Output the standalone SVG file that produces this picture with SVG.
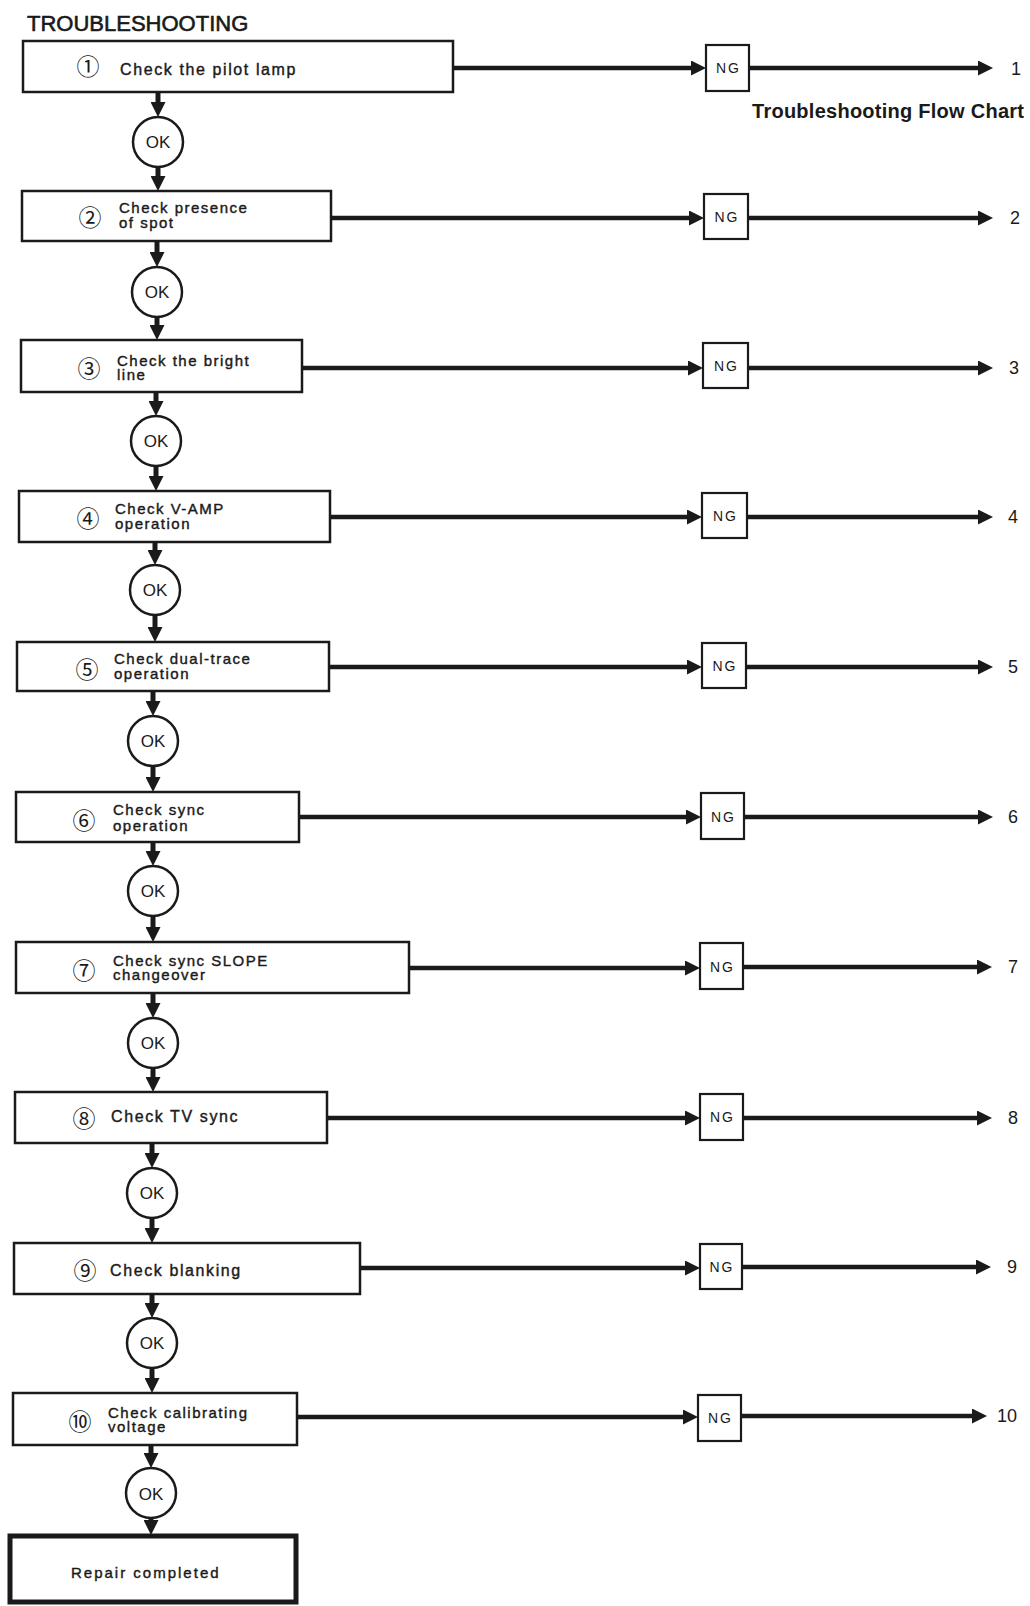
<svg xmlns="http://www.w3.org/2000/svg" width="1030" height="1606" viewBox="0 0 1030 1606">
<defs>
<style>
.box{fill:#fff;stroke:#1a1a1a;stroke-width:2.5}
.ng{fill:#fff;stroke:#1a1a1a;stroke-width:2.2}
.ok{fill:#fff;stroke:#1a1a1a;stroke-width:2.5}
.fin{fill:#fff;stroke:#1a1a1a;stroke-width:5}
.h{stroke:#1a1a1a;stroke-width:4.5;fill:none;marker-end:url(#ah)}
.v{stroke:#1a1a1a;stroke-width:5;fill:none;marker-end:url(#ah)}
.t{font-family:"Liberation Sans",Arial,sans-serif;font-size:15px;letter-spacing:1.5px;fill:#1a1a1a;stroke:#1a1a1a;stroke-width:0.4}
.t1{font-family:"Liberation Sans",Arial,sans-serif;font-size:16px;letter-spacing:1.6px;fill:#1a1a1a;stroke:#1a1a1a;stroke-width:0.4}
.cn{font-family:"Noto Sans CJK JP","DejaVu Sans",sans-serif;font-size:23px;fill:#1a1a1a;text-anchor:middle}
.okt{font-family:"Liberation Sans",Arial,sans-serif;font-size:17px;fill:#1a1a1a;text-anchor:middle}
.ngt{font-family:"Liberation Sans",Arial,sans-serif;font-size:14px;letter-spacing:2px;fill:#1a1a1a;text-anchor:middle}
.num{font-family:"Liberation Sans",Arial,sans-serif;font-size:18px;fill:#1a1a1a;text-anchor:middle}
</style>
<marker id="ah" markerUnits="userSpaceOnUse" markerWidth="15" markerHeight="15" viewBox="0 0 15 15" refX="7" refY="7.5" orient="auto">
<path d="M0,0 L15,7.5 L0,15 z" fill="#1a1a1a"/>
</marker>
</defs>
<rect width="1030" height="1606" fill="#fff"/>

<text x="27" y="31" font-family="Liberation Sans, Arial, sans-serif" font-size="22" fill="#1a1a1a" stroke="#1a1a1a" stroke-width="0.6">TROUBLESHOOTING</text>
<text x="752" y="118" font-family="Liberation Sans, Arial, sans-serif" font-size="20" font-weight="bold" fill="#1a1a1a" textLength="272" lengthAdjust="spacing">Troubleshooting Flow Chart</text>

<g id="connectors">
<line class="h" x1="453" y1="68" x2="698" y2="68"/>
<line class="h" x1="749" y1="68" x2="985" y2="68"/>
<line class="v" x1="158" y1="92" x2="158" y2="109"/>
<line class="v" x1="158" y1="167" x2="158" y2="183"/>
<line class="h" x1="331" y1="218" x2="696" y2="218"/>
<line class="h" x1="748" y1="218" x2="985" y2="218"/>
<line class="v" x1="157" y1="241" x2="157" y2="259"/>
<line class="v" x1="157" y1="317" x2="157" y2="332"/>
<line class="h" x1="302" y1="368" x2="695" y2="368"/>
<line class="h" x1="748" y1="368" x2="985" y2="368"/>
<line class="v" x1="156" y1="392" x2="156" y2="408"/>
<line class="v" x1="156" y1="466" x2="156" y2="483"/>
<line class="h" x1="330" y1="517" x2="694" y2="517"/>
<line class="h" x1="747" y1="517" x2="985" y2="517"/>
<line class="v" x1="155" y1="542" x2="155" y2="557"/>
<line class="v" x1="155" y1="615" x2="155" y2="634"/>
<line class="h" x1="329" y1="667" x2="694" y2="667"/>
<line class="h" x1="746" y1="667" x2="985" y2="667"/>
<line class="v" x1="153" y1="691" x2="153" y2="708"/>
<line class="v" x1="153" y1="766" x2="153" y2="784"/>
<line class="h" x1="299" y1="817" x2="693" y2="817"/>
<line class="h" x1="744" y1="817" x2="985" y2="817"/>
<line class="v" x1="153" y1="842" x2="153" y2="858"/>
<line class="v" x1="153" y1="916" x2="153" y2="934"/>
<line class="h" x1="409" y1="968" x2="692" y2="968"/>
<line class="h" x1="743" y1="967" x2="984" y2="967"/>
<line class="v" x1="153" y1="993" x2="153" y2="1010"/>
<line class="v" x1="153" y1="1068" x2="153" y2="1084"/>
<line class="h" x1="327" y1="1118" x2="692" y2="1118"/>
<line class="h" x1="743" y1="1118" x2="984" y2="1118"/>
<line class="v" x1="152" y1="1143" x2="152" y2="1160"/>
<line class="v" x1="152" y1="1218" x2="152" y2="1235"/>
<line class="h" x1="360" y1="1268" x2="692" y2="1268"/>
<line class="h" x1="742" y1="1267" x2="983" y2="1267"/>
<line class="v" x1="152" y1="1294" x2="152" y2="1310"/>
<line class="v" x1="152" y1="1368" x2="152" y2="1385"/>
<line class="h" x1="297" y1="1417" x2="690" y2="1417"/>
<line class="h" x1="741" y1="1416" x2="979" y2="1416"/>
<line class="v" x1="151" y1="1445" x2="151" y2="1460"/>
<line class="v" x1="151" y1="1518" x2="151" y2="1527"/>
</g>

<g id="step1"><rect class="box" x="23" y="41" width="430" height="51"/><text class="cn" x="88" y="75">①</text><text class="t1" x="120" y="75">Check the pilot lamp</text></g>
<g id="step2"><rect class="box" x="22" y="191" width="309" height="50"/><text class="cn" x="90" y="226">②</text><text class="t" x="119" y="213">Check presence<tspan x="119" y="228">of spot</tspan></text></g>
<g id="step3"><rect class="box" x="21" y="340" width="281" height="52"/><text class="cn" x="89" y="377">③</text><text class="t" x="117" y="366">Check the bright<tspan x="117" y="380">line</tspan></text></g>
<g id="step4"><rect class="box" x="19" y="491" width="311" height="51"/><text class="cn" x="88" y="527">④</text><text class="t" x="115" y="514">Check V-AMP<tspan x="115" y="529">operation</tspan></text></g>
<g id="step5"><rect class="box" x="17" y="642" width="312" height="49"/><text class="cn" x="87" y="678">⑤</text><text class="t" x="114" y="664">Check dual-trace<tspan x="114" y="679">operation</tspan></text></g>
<g id="step6"><rect class="box" x="16" y="792" width="283" height="50"/><text class="cn" x="84" y="829">⑥</text><text class="t" x="113" y="815">Check sync<tspan x="113" y="831">operation</tspan></text></g>
<g id="step7"><rect class="box" x="16" y="942" width="393" height="51"/><text class="cn" x="84" y="979">⑦</text><text class="t" x="113" y="966">Check sync SLOPE<tspan x="113" y="980">changeover</tspan></text></g>
<g id="step8"><rect class="box" x="15" y="1092" width="312" height="51"/><text class="cn" x="84" y="1127">⑧</text><text class="t1" x="111" y="1122">Check TV sync</text></g>
<g id="step9"><rect class="box" x="14" y="1243" width="346" height="51"/><text class="cn" x="85" y="1279">⑨</text><text class="t1" x="110" y="1276">Check blanking</text></g>
<g id="step10"><rect class="box" x="13" y="1393" width="284" height="52"/><text class="cn" x="80" y="1430">⑩</text><text class="t" x="108" y="1418">Check calibrating<tspan x="108" y="1432">voltage</tspan></text></g>

<g id="ok1"><circle class="ok" cx="158" cy="142" r="25"/><text class="okt" x="158" y="148">OK</text></g>
<g id="ok2"><circle class="ok" cx="157" cy="292" r="25"/><text class="okt" x="157" y="298">OK</text></g>
<g id="ok3"><circle class="ok" cx="156" cy="441" r="25"/><text class="okt" x="156" y="447">OK</text></g>
<g id="ok4"><circle class="ok" cx="155" cy="590" r="25"/><text class="okt" x="155" y="596">OK</text></g>
<g id="ok5"><circle class="ok" cx="153" cy="741" r="25"/><text class="okt" x="153" y="747">OK</text></g>
<g id="ok6"><circle class="ok" cx="153" cy="891" r="25"/><text class="okt" x="153" y="897">OK</text></g>
<g id="ok7"><circle class="ok" cx="153" cy="1043" r="25"/><text class="okt" x="153" y="1049">OK</text></g>
<g id="ok8"><circle class="ok" cx="152" cy="1193" r="25"/><text class="okt" x="152" y="1199">OK</text></g>
<g id="ok9"><circle class="ok" cx="152" cy="1343" r="25"/><text class="okt" x="152" y="1349">OK</text></g>
<g id="ok10"><circle class="ok" cx="151" cy="1493" r="25"/><text class="okt" x="151" y="1500" font-size="19">OK</text></g>

<g id="ng1"><rect class="ng" x="706" y="45" width="43" height="46"/><text class="ngt" x="728.5" y="73">NG</text></g>
<g id="ng2"><rect class="ng" x="704" y="194" width="44" height="45"/><text class="ngt" x="727" y="222">NG</text></g>
<g id="ng3"><rect class="ng" x="703" y="343" width="45" height="45"/><text class="ngt" x="726.5" y="371">NG</text></g>
<g id="ng4"><rect class="ng" x="702" y="493" width="45" height="45"/><text class="ngt" x="725.5" y="521">NG</text></g>
<g id="ng5"><rect class="ng" x="702" y="643" width="44" height="45"/><text class="ngt" x="725" y="671">NG</text></g>
<g id="ng6"><rect class="ng" x="701" y="793" width="43" height="46"/><text class="ngt" x="723.5" y="822">NG</text></g>
<g id="ng7"><rect class="ng" x="700" y="943" width="43" height="46"/><text class="ngt" x="722.5" y="972">NG</text></g>
<g id="ng8"><rect class="ng" x="700" y="1094" width="43" height="46"/><text class="ngt" x="722.5" y="1122">NG</text></g>
<g id="ng9"><rect class="ng" x="700" y="1244" width="42" height="45"/><text class="ngt" x="722" y="1272">NG</text></g>
<g id="ng10"><rect class="ng" x="698" y="1395" width="43" height="46"/><text class="ngt" x="720.5" y="1423">NG</text></g>

<g id="out1"><text class="num" x="1016" y="75">1</text></g>
<g id="out2"><text class="num" x="1015" y="224">2</text></g>
<g id="out3"><text class="num" x="1014" y="374">3</text></g>
<g id="out4"><text class="num" x="1013" y="523">4</text></g>
<g id="out5"><text class="num" x="1013" y="673">5</text></g>
<g id="out6"><text class="num" x="1013" y="823">6</text></g>
<g id="out7"><text class="num" x="1013" y="973">7</text></g>
<g id="out8"><text class="num" x="1013" y="1124">8</text></g>
<g id="out9"><text class="num" x="1012" y="1273">9</text></g>
<g id="out10"><text class="num" x="1007" y="1422">10</text></g>

<g id="done"><rect class="fin" x="10" y="1536" width="286" height="66"/><text x="71" y="1578" font-family="Liberation Sans, Arial, sans-serif" font-size="15" letter-spacing="2" fill="#1a1a1a" stroke="#1a1a1a" stroke-width="0.4">Repair completed</text></g>
</svg>
